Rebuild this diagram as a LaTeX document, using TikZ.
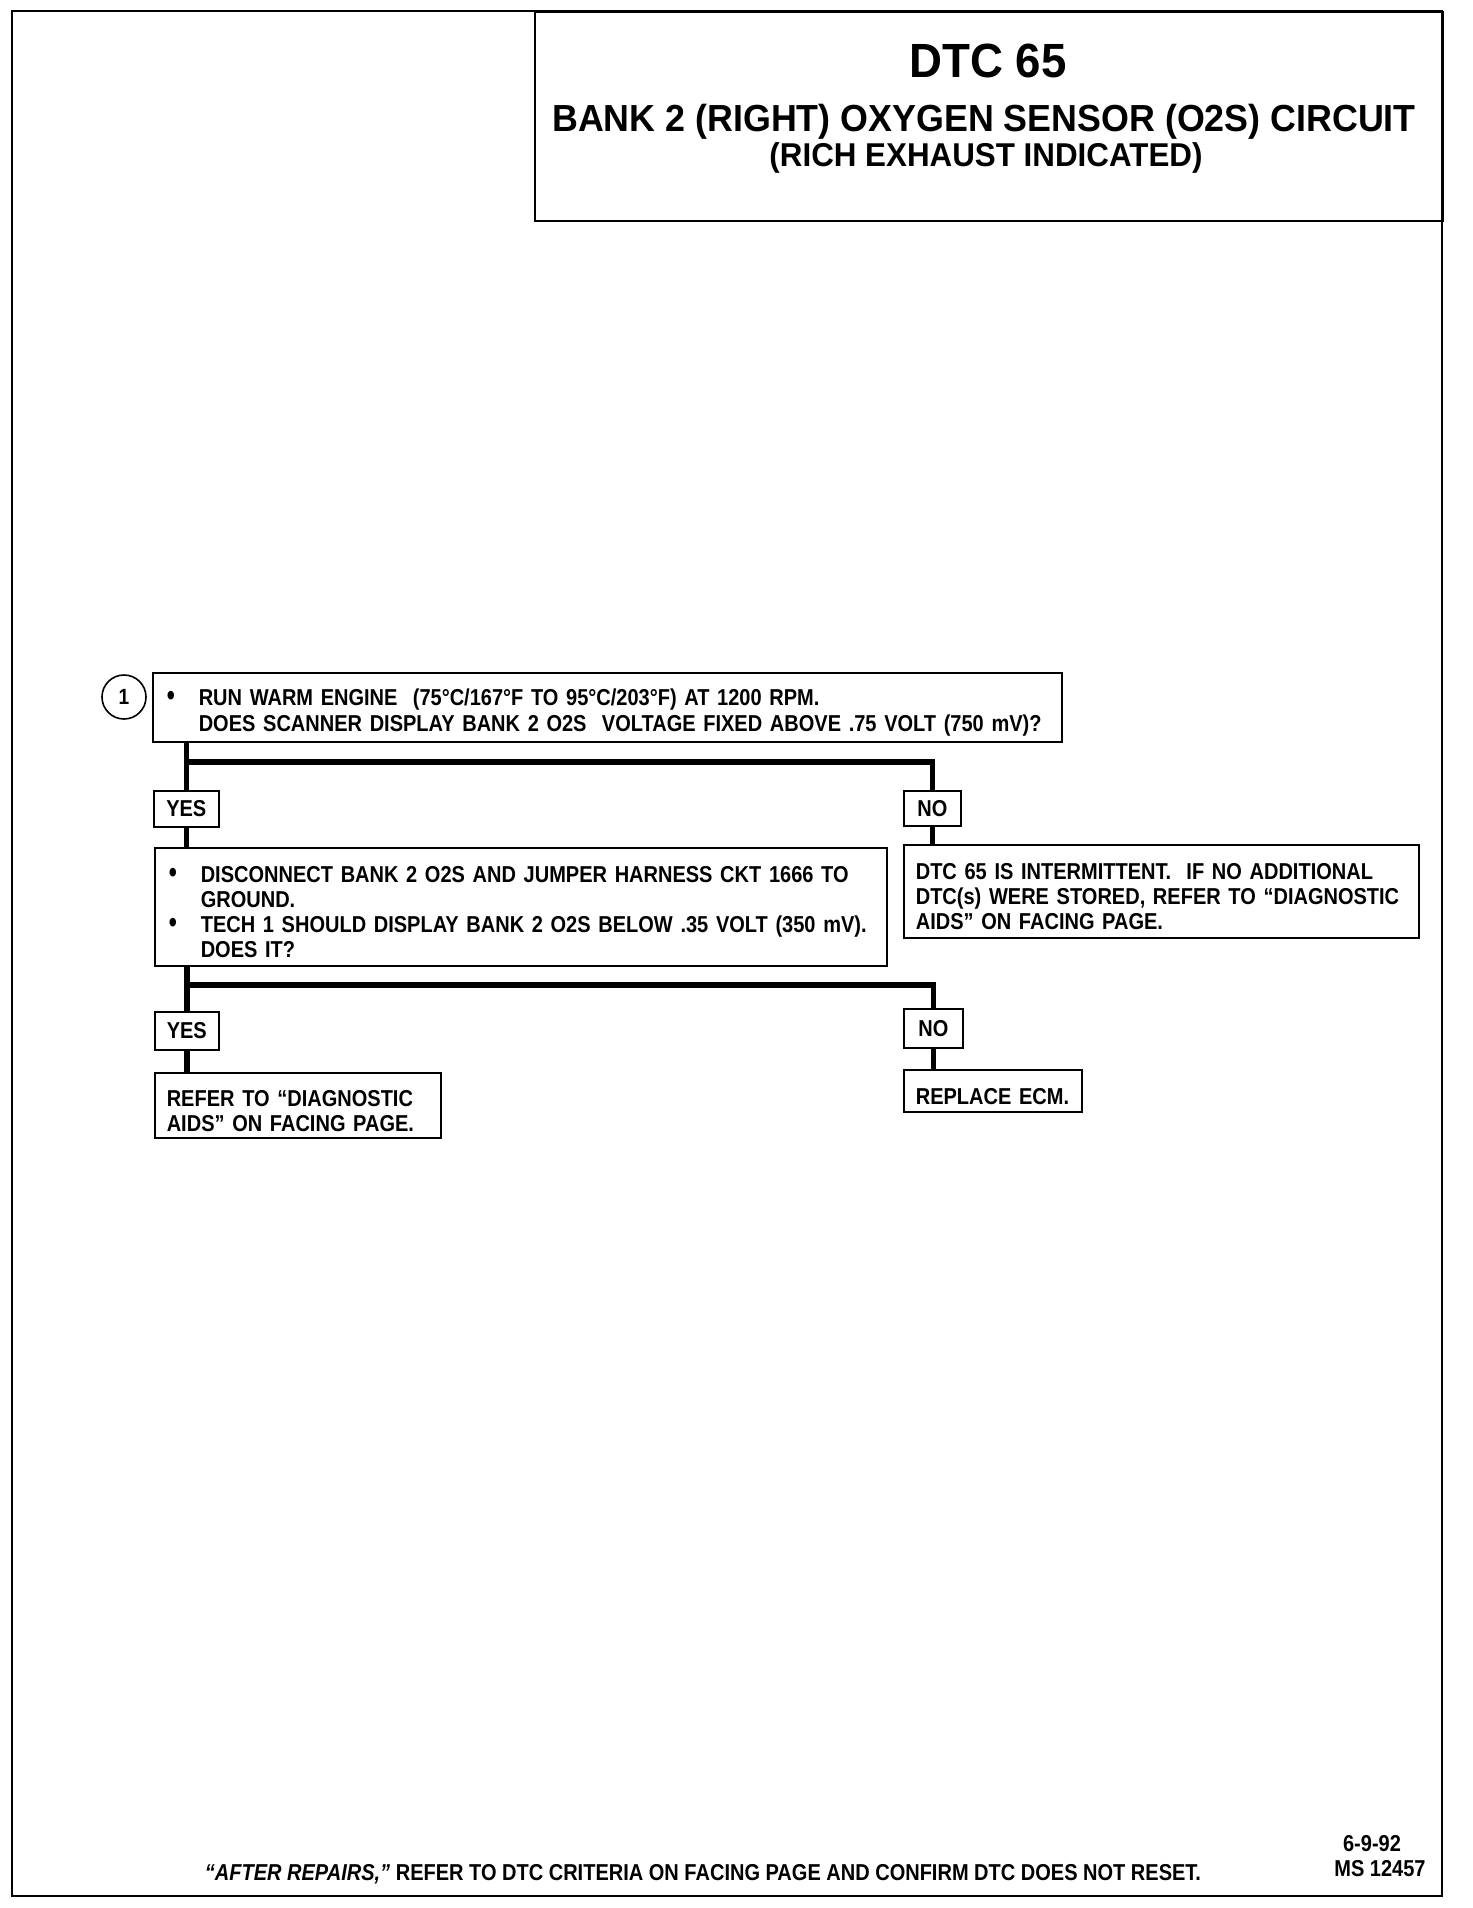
\documentclass[tikz,border=0pt]{standalone}
\usepackage{fontspec}
\setmainfont[FakeStretch=0.87]{Liberation Sans}
\newfontfamily\headfont[FakeStretch=0.95]{Liberation Sans}
\usetikzlibrary{positioning}

\newcommand{\bul}{\makebox[34pt][l]{\hspace*{2pt}\scalebox{1.15}[1.3]{\textbullet}}}
\newcommand{\hang}{\hspace*{34pt}}

\begin{document}
\begin{tikzpicture}[x=1pt,y=-1pt,
  box/.style={draw,line width=1.6pt,anchor=north west,inner xsep=12pt,inner ysep=0pt,align=left,
    font=\bfseries\fontsize{23}{25.2}\selectfont,execute at begin node={\rule{0pt}{27pt}}},
  tag/.style={draw,line width=1.6pt,anchor=north west,inner sep=0pt,
    font=\bfseries\fontsize{23}{23}\selectfont},
  conn/.style={line width=5.5pt},
  note/.style={font=\bfseries\fontsize{23}{23}\selectfont}]
\path[use as bounding box,fill=white] (0,0) rectangle (1472,1908);

\draw[line width=2.6pt] (12,11) rectangle (1442,1896);
\node[draw,line width=2pt,anchor=north west,minimum width=908pt,minimum height=209pt] (title) at (534,11) {};
\node[font=\headfont\bfseries\fontsize{48}{48}\selectfont] (dtc) at (988,61) {DTC 65};
\node[font=\headfont\bfseries\fontsize{37.7}{38}\selectfont] (circuit) at (984,122) {BANK 2 (RIGHT) OXYGEN SENSOR (O2S) CIRCUIT};
\node[font=\headfont\bfseries\fontsize{33}{33}\selectfont] (rich) at (986,158) {(RICH EXHAUST INDICATED)};

\node[draw,circle,line width=1.6pt,minimum size=44pt,inner sep=0pt,font=\bfseries\fontsize{22}{22}\selectfont] (step1) at (124,697) {1};
\node[box,minimum width=909pt,minimum height=69pt,text width=885pt] (q1) at (152,672)
  {\bul RUN WARM ENGINE\ \ (75\textdegree C/167\textdegree F TO 95\textdegree C/203\textdegree F) AT 1200 RPM.\\
   \hang DOES SCANNER DISPLAY BANK 2 O2S\ \ VOLTAGE FIXED ABOVE .75 VOLT (750 mV)?};

\node[tag,minimum width=65pt,minimum height=36pt] (yes1) at (153,790) {YES};
\node[tag,minimum width=57pt,minimum height=35pt] (no1) at (903,790) {NO};

\node[box,minimum width=732pt,minimum height=118pt,text width=708pt] (q2) at (154,847)
  {\bul DISCONNECT BANK 2 O2S AND JUMPER HARNESS CKT 1666 TO\\
   \hang GROUND.\\
   \bul TECH 1 SHOULD DISPLAY BANK 2 O2S BELOW .35 VOLT (350 mV).\\
   \hang DOES IT?};
\node[box,minimum width=515pt,minimum height=93pt,text width=491pt] (intermit) at (903,844)
  {DTC 65 IS INTERMITTENT.\ \ IF NO ADDITIONAL\\
   DTC(s) WERE STORED, REFER TO “DIAGNOSTIC\\
   AIDS” ON FACING PAGE.};

\node[tag,minimum width=64pt,minimum height=38pt] (yes2) at (154,1011) {YES};
\node[tag,minimum width=59pt,minimum height=39pt] (no2) at (903,1008) {NO};

\node[box,minimum width=286pt,minimum height=65pt,text width=262pt] (diag) at (154,1072)
  {REFER TO “DIAGNOSTIC\\ AIDS” ON FACING PAGE.};
\node[box,minimum width=178pt,minimum height=42pt,text width=154pt] (ecm) at (903,1069)
  {REPLACE ECM.};

\coordinate (bar1) at (0,762);
\coordinate (bar2) at (0,985);
\draw[conn] (q1.south -| yes1.north) -- (yes1.north);
\draw[conn] (bar1 -| yes1.north) -| (no1.north);
\draw[conn] (no1.south) -- (no1.south |- intermit.north);
\draw[conn] (yes1.south) -- (yes1.south |- q2.north);
\draw[conn] (q2.south -| yes2.north) -- (yes2.north);
\draw[conn] (bar2 -| yes2.north) -| (no2.north);
\draw[conn] (yes2.south) -- (yes2.south |- diag.north);
\draw[conn] (no2.south) -- (no2.south |- ecm.north);

\node[note] (footer) at (703,1874)
  {\itshape “AFTER REPAIRS,”\upshape\ REFER TO DTC CRITERIA ON FACING PAGE AND CONFIRM DTC DOES NOT RESET.};
\node[note] (date) at (1372,1844) {6-9-92};
\node[note] (msnum) at (1380,1869) {MS 12457};
\end{tikzpicture}
\end{document}
